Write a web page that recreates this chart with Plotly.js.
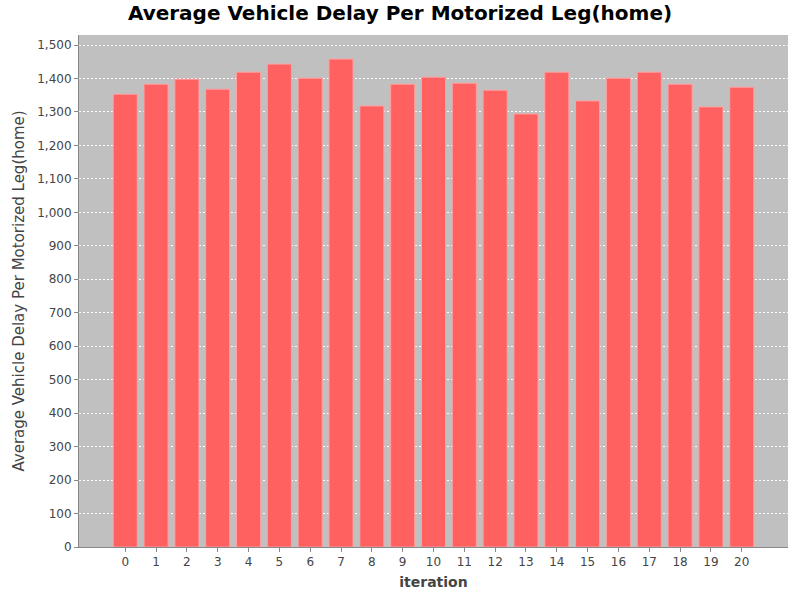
<!DOCTYPE html>
<html>
<head>
<meta charset="utf-8">
<script src="https://cdn.plot.ly/plotly-3.0.1.min.js"></script>
<style>body{margin:0;background:#fff}#chart{width:800px;height:600px}</style>
</head>
<body>
<div id="chart"></div>
<script>
const iterations = ["0","1","2","3","4","5","6","7","8","9","10","11","12","13","14","15","16","17","18","19","20"];
const delays = [1353,1383,1398,1368,1419,1443,1401,1458,1318,1383,1404,1386,1365,1294,1419,1333,1401,1419,1383,1315,1374];

const FONT = "DejaVu Sans, sans-serif";

Plotly.newPlot("chart", [{
  type: "bar",
  x: iterations,
  y: delays,
  marker: { color: "#ff6161", line: { color: "#ffa0a0", width: 1 } },
}], {
  width: 800, height: 600,
  paper_bgcolor: "#fff",
  plot_bgcolor: "#c0c0c0",
  font: { family: FONT, color: "#444", size: 12 },
  margin: { t: 35, r: 12, b: 53, l: 79 },
  bargap: 0.22,
  title: { text: "<b>Average Vehicle Delay Per Motorized Leg(home)</b>", x: 0.5, y: 0.99, yanchor: "top",
           font: { family: FONT, size: 20, color: "#000" } },
  xaxis: {
    type: "category",
    range: [-1.5, 21.5],
    showgrid: false,
    ticks: "outside", ticklen: 4, tickcolor: "#888",
    showline: true, linecolor: "#888",
    title: { text: "<b>iteration</b>", font: { size: 14, color: "#444" }, standoff: 8 },
  },
  yaxis: {
    range: [0, 1530],
    dtick: 100,
    tickformat: ",d",
    gridcolor: "#fff", griddash: "2px,2px", gridwidth: 1,
    zeroline: false,
    ticks: "outside", ticklen: 4, tickcolor: "#888",
    showline: true, linecolor: "#888",
    title: { text: "Average Vehicle Delay Per Motorized Leg(home)", font: { size: 15, color: "#444" }, standoff: 8 },
  },
  showlegend: false,
}, { displayModeBar: false });
</script>
</body>
</html>
